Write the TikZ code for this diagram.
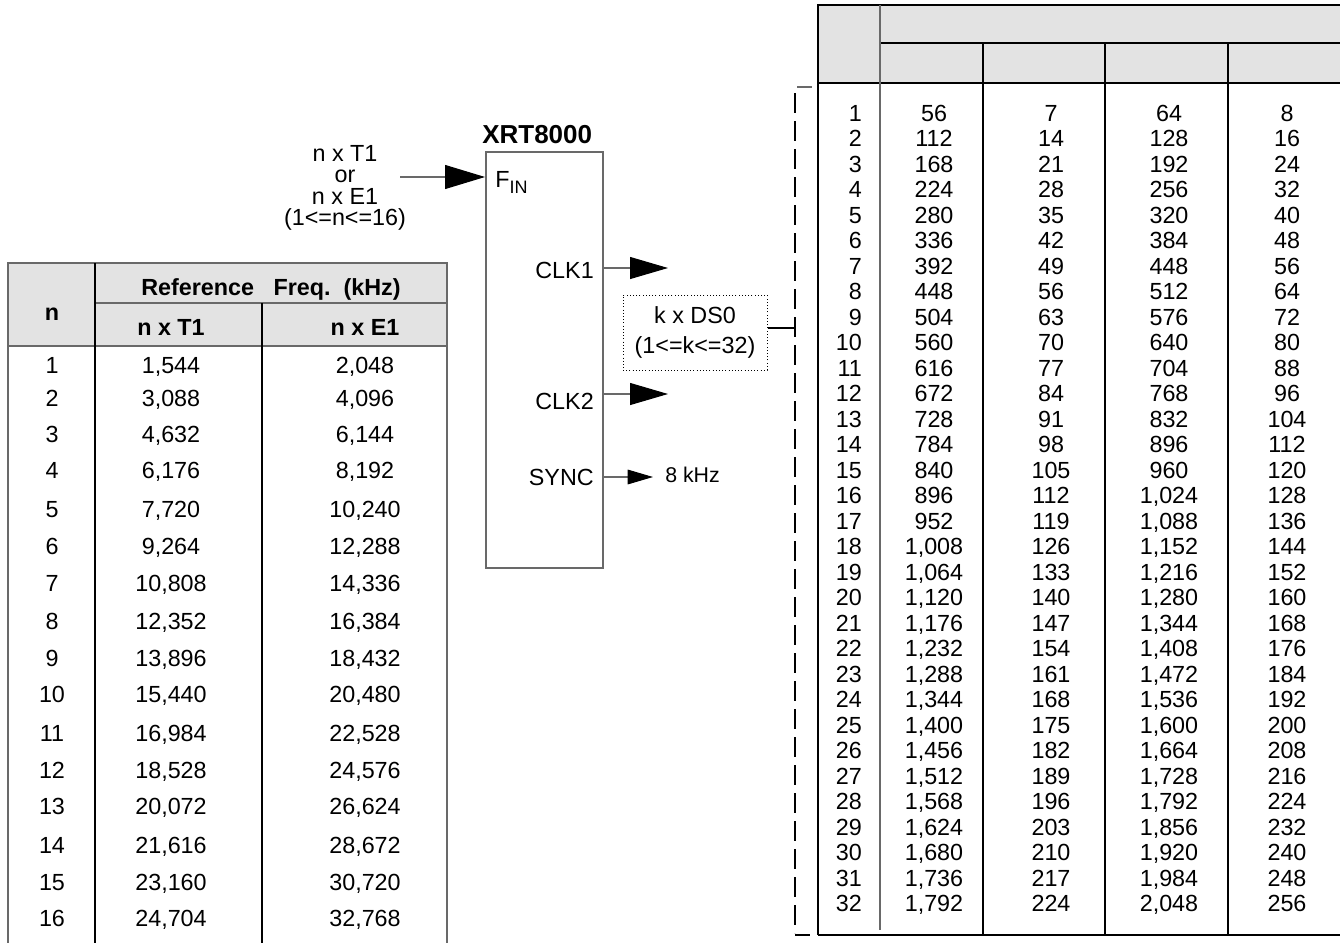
\documentclass[tikz,border=0pt]{standalone}
\usepackage{fontspec}
\setmainfont{Liberation Sans}
\usetikzlibrary{arrows.meta}
\definecolor{hdr}{RGB}{227,227,227}
\definecolor{edgec}{RGB}{105,105,105}
\begin{document}
\begin{tikzpicture}[x=0.75pt,y=-0.75pt,
  txt/.style={inner sep=0pt, text height=12.6pt, text depth=0pt, font=\fontsize{17.5}{20}\selectfont},
  boldtxt/.style={inner sep=0pt, text height=12.6pt, text depth=0pt, font=\fontsize{17.5}{20}\selectfont\bfseries},
  thinline/.style={line width=0.8pt, black},
  thickline/.style={line width=1.6pt, edgec},
  arrline/.style={line width=0.8pt, edgec},
  bigtip/.style={-{Triangle[length=30pt,width=18pt,color=black]}},
  clktip/.style={-{Triangle[length=28.5pt,width=16.5pt,color=black]}},
  smalltip/.style={-{Triangle[length=19pt,width=11pt,color=black]}}]
\useasboundingbox (0,0) rectangle (1340,943);

% ---------------- left table ----------------
\fill[hdr] (8,263) rectangle (447,346);
\draw[thickline] (8,943) -- (8,263) -- (447,263) -- (447,943);
\draw[thickline] (8,346) -- (447,346);
\draw[line width=1.2pt, edgec] (95,303) -- (447,303);
\draw[thinline] (95,263) -- (95,943);
\draw[thinline] (262,303) -- (262,943);
\node[boldtxt] (lhn) at (52,312) {n};
\node[boldtxt] (lhref) at (271,287) {Reference\ \ \ Freq.\ \ (kHz)};
\node[boldtxt] (lht) at (171,327) {n x T1};
\node[boldtxt] (lhe) at (365,327) {n x E1};
\foreach \n/\t/\e/\y in {1/{1,544}/{2,048}/365, 2/{3,088}/{4,096}/398,
  3/{4,632}/{6,144}/434, 4/{6,176}/{8,192}/470, 5/{7,720}/{10,240}/509,
  6/{9,264}/{12,288}/546, 7/{10,808}/{14,336}/583, 8/{12,352}/{16,384}/621,
  9/{13,896}/{18,432}/658, 10/{15,440}/{20,480}/694, 11/{16,984}/{22,528}/733,
  12/{18,528}/{24,576}/770, 13/{20,072}/{26,624}/806, 14/{21,616}/{28,672}/845,
  15/{23,160}/{30,720}/882, 16/{24,704}/{32,768}/918}{
  \node[txt] (l-\n-a) at (52,\y) {\n};
  \node[txt] (l-\n-b) at (171,\y) {\t};
  \node[txt] (l-\n-c) at (365,\y) {\e};
}

% ---------------- input label ----------------
\node[inner sep=0pt, align=center, font=\fontsize{17.5}{16}\selectfont] (inlbl) at (345,188)
  {n x T1\\or\\n x E1\\(1<=n<=16)};
\coordinate (finsrc) at (400,177);

% ---------------- XRT8000 block ----------------
\node[draw=edgec, line width=1.5pt, minimum width=87.75pt, minimum height=312pt, inner sep=0pt] (xrt) at (544.5,360) {};
\node[inner sep=0pt, anchor=west, font=\fontsize{19.5}{22}\selectfont\bfseries] (title) at (482,135) {XRT8000};
\node[txt, text height=, anchor=base west] (fin) at (495,187) {F\raisebox{-4.5pt}{\fontsize{13.5}{14}\selectfont IN}};
\node[txt, anchor=east] (clk1) at (594,270) {CLK1};
\node[txt, anchor=east] (clk2) at (594,401) {CLK2};
\node[txt, anchor=east] (sync) at (594,477) {SYNC};

\draw[arrline, bigtip] (finsrc) -- (xrt.west |- finsrc);

\coordinate (c1t) at (668,268);
\coordinate (c2t) at (668,394);
\coordinate (st) at (653,477);
\draw[arrline, clktip] (xrt.east |- c1t) -- (c1t);
\draw[arrline, clktip] (xrt.east |- c2t) -- (c2t);
\draw[arrline, smalltip] (xrt.east |- st) -- (st);
\node[inner sep=0pt, anchor=west, text height=11.5pt, text depth=0pt, font=\fontsize{16}{18}\selectfont] (f8) at (665,475) {8 kHz};

% ---------------- DS0 box and bracket ----------------
\node[draw, dash pattern=on 0.8pt off 1.6pt, line width=0.75pt, minimum width=108pt, minimum height=56.25pt,
  inner sep=0pt, align=center, font=\fontsize{17.5}{22.5}\selectfont] (ds0) at (695,332.5) {k x DS0\\(1<=k<=32)};
\coordinate (brk) at (794,328);
\draw[line width=1.6pt] (ds0.east |- brk) -- (brk);
\draw[line width=0.8pt, dash pattern=on 15pt off 6pt] (795,93) -- (795,933);
\draw[line width=0.8pt, edgec] (797,87) -- (812,87);
\draw[line width=0.8pt] (795,935) -- (810,935);

% ---------------- right table ----------------
\fill[hdr] (818,5) rectangle (1340,83);
\draw[thinline] (818,935) -- (818,5) -- (1340,5);
\draw[thinline] (880,43) -- (1340,43);
\draw[thinline] (818,83) -- (1340,83);
\draw[thinline] (818,935) -- (1340,935);
\draw[thickline] (880,5) -- (880,930);
\draw[thinline] (983,43) -- (983,935);
\draw[thinline] (1105,43) -- (1105,935);
\draw[thinline] (1228,43) -- (1228,935);
\foreach \k/\a/\b/\c/\d in {1/56/7/64/8, 2/112/14/128/16, 3/168/21/192/24,
  4/224/28/256/32, 5/280/35/320/40, 6/336/42/384/48, 7/392/49/448/56,
  8/448/56/512/64, 9/504/63/576/72, 10/560/70/640/80, 11/616/77/704/88,
  12/672/84/768/96, 13/728/91/832/104, 14/784/98/896/112, 15/840/105/960/120,
  16/896/112/{1,024}/128, 17/952/119/{1,088}/136, 18/{1,008}/126/{1,152}/144,
  19/{1,064}/133/{1,216}/152, 20/{1,120}/140/{1,280}/160, 21/{1,176}/147/{1,344}/168,
  22/{1,232}/154/{1,408}/176, 23/{1,288}/161/{1,472}/184, 24/{1,344}/168/{1,536}/192,
  25/{1,400}/175/{1,600}/200, 26/{1,456}/182/{1,664}/208, 27/{1,512}/189/{1,728}/216,
  28/{1,568}/196/{1,792}/224, 29/{1,624}/203/{1,856}/232, 30/{1,680}/210/{1,920}/240,
  31/{1,736}/217/{1,984}/248, 32/{1,792}/224/{2,048}/256}{
  \pgfmathsetmacro\yy{113+25.5*(\k-1)}
  \node[txt, anchor=east] (r-\k-k) at (862,\yy) {\k};
  \node[txt] (r-\k-a) at (934,\yy) {\a};
  \node[txt] (r-\k-b) at (1051,\yy) {\b};
  \node[txt] (r-\k-c) at (1169,\yy) {\c};
  \node[txt] (r-\k-d) at (1287,\yy) {\d};
}
\end{tikzpicture}
\end{document}
